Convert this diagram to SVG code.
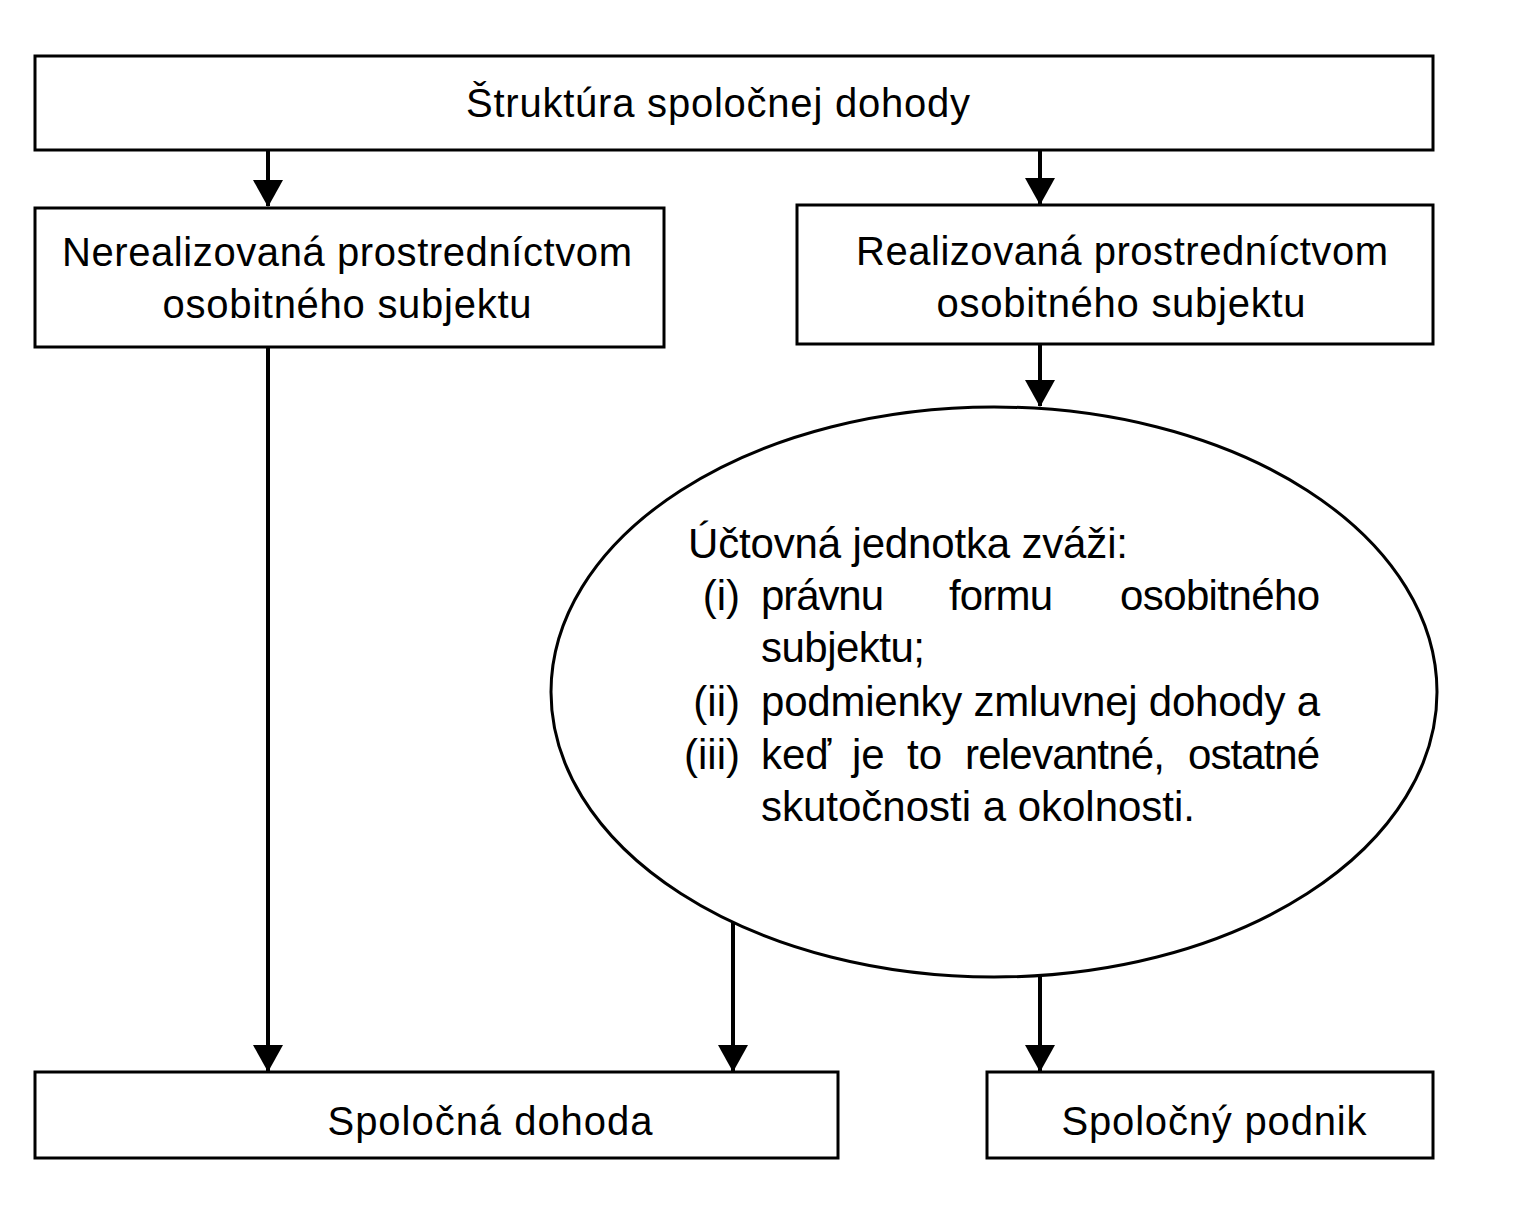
<svg xmlns="http://www.w3.org/2000/svg" width="1540" height="1216" viewBox="0 0 1540 1216">
<defs>
<style>
.box{fill:#fff;stroke:#000;stroke-width:3}
.t{font-family:"Liberation Sans",Arial,sans-serif;font-size:40px;fill:#000}
.e{font-family:"Liberation Sans",Arial,sans-serif;font-size:42px;fill:#000}
.c{fill:none;stroke:#000;stroke-width:4}
</style>
<marker id="ah" markerWidth="32" markerHeight="30" refX="16" refY="28" orient="0" markerUnits="userSpaceOnUse" viewBox="0 0 32 30">
<path d="M1,2 L31,2 L16,29 Z" fill="#000"/>
</marker>
</defs>
<rect width="1540" height="1216" fill="#fff"/>
<g id="connectors">
<line class="c" x1="268" y1="150" x2="268" y2="206" marker-end="url(#ah)"/>
<line class="c" x1="1040" y1="150" x2="1040" y2="204" marker-end="url(#ah)"/>
<line class="c" x1="1040" y1="344" x2="1040" y2="406" marker-end="url(#ah)"/>
<line class="c" x1="268" y1="347" x2="268" y2="1071" marker-end="url(#ah)"/>
<line class="c" x1="733" y1="923" x2="733" y2="1071" marker-end="url(#ah)"/>
<line class="c" x1="1040" y1="977" x2="1040" y2="1071" marker-end="url(#ah)"/>
</g>
<g id="n1">
<rect class="box" x="35" y="56" width="1398" height="94"/>
<text class="t" x="718" y="117" text-anchor="middle" textLength="504">Štruktúra spoločnej dohody</text>
</g>
<g id="n2">
<rect class="box" x="35" y="208" width="629" height="139"/>
<text class="t" x="347" y="266" text-anchor="middle" textLength="570">Nerealizovaná prostredníctvom</text>
<text class="t" x="347" y="318" text-anchor="middle" textLength="369">osobitného subjektu</text>
</g>
<g id="n3">
<rect class="box" x="797" y="205" width="636" height="139"/>
<text class="t" x="1122" y="265" text-anchor="middle" textLength="532">Realizovaná prostredníctvom</text>
<text class="t" x="1121" y="317" text-anchor="middle" textLength="369">osobitného subjektu</text>
</g>
<g id="n4">
<ellipse cx="994" cy="692" rx="443" ry="285" fill="#fff" stroke="#000" stroke-width="3"/>
<text class="e" x="688" y="558" textLength="440">Účtovná jednotka zváži:</text>
<text class="e" x="740" y="610" text-anchor="end">(i)</text>
<text class="e" x="761" y="610" textLength="123">právnu</text>
<text class="e" x="949" y="610" textLength="104">formu</text>
<text class="e" x="1120" y="610" textLength="200">osobitného</text>
<text class="e" x="761" y="662" textLength="164">subjektu;</text>
<text class="e" x="740" y="716" text-anchor="end">(ii)</text>
<text class="e" x="761" y="716" textLength="559">podmienky zmluvnej dohody a</text>
<text class="e" x="740" y="769" text-anchor="end">(iii)</text>
<text class="e" x="761" y="769">keď</text>
<text class="e" x="852" y="769">je</text>
<text class="e" x="907" y="769">to</text>
<text class="e" x="965" y="769" textLength="200">relevantné,</text>
<text class="e" x="1188" y="769" textLength="132">ostatné</text>
<text class="e" x="761" y="821" textLength="434">skutočnosti a okolnosti.</text>
</g>
<g id="n5">
<rect class="box" x="35" y="1072" width="803" height="86"/>
<text class="t" x="490" y="1135" text-anchor="middle" textLength="325">Spoločná dohoda</text>
</g>
<g id="n6">
<rect class="box" x="987" y="1072" width="446" height="86"/>
<text class="t" x="1214" y="1135" text-anchor="middle" textLength="305">Spoločný podnik</text>
</g>
</svg>
